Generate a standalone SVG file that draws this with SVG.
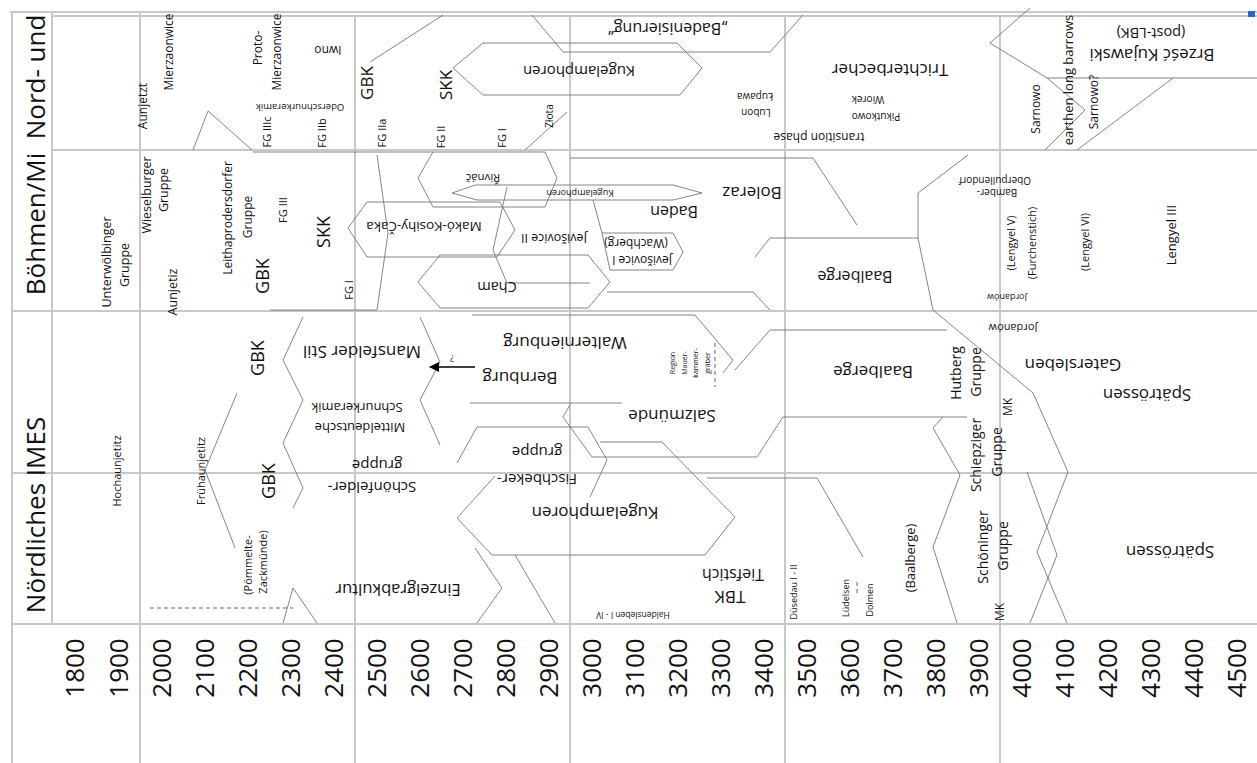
<svg xmlns="http://www.w3.org/2000/svg" width="1257" height="763" viewBox="0 0 1257 763">
<style>
.g{stroke:#c8c8c8;stroke-width:2;fill:none}
.s{stroke:#777;stroke-width:0.9;fill:none}
.d{stroke:#555;stroke-width:0.9;fill:none;stroke-dasharray:4 3}
text{font-family:'Open Sans','Noto Sans','Liberation Sans',sans-serif;fill:#111;text-anchor:middle;dominant-baseline:central}
.yr{font-size:26px}
.big{font-size:26px}
</style>
<defs>
<marker id="ah" viewBox="0 0 10 10" refX="9" refY="5" markerUnits="userSpaceOnUse" markerWidth="14" markerHeight="10" orient="auto"><path d="M0,0 L10,5 L0,10 z" fill="#000"/></marker>
</defs>
<rect width="1257" height="763" fill="#fff"/>
<g id="grid">
<line class="g" x1="10" y1="12" x2="1257" y2="12"/>
<line class="g" x1="52" y1="16" x2="1257" y2="16"/>
<line class="g" x1="52" y1="150" x2="1257" y2="150"/>
<line class="g" x1="12" y1="311" x2="1257" y2="311"/>
<line class="g" x1="12" y1="473" x2="1257" y2="473"/>
<line class="g" x1="12" y1="624" x2="1257" y2="624"/>
<line class="g" x1="12" y1="12" x2="12" y2="763"/>
<line class="g" x1="52" y1="12" x2="52" y2="624"/>
<line class="g" x1="140" y1="12" x2="140" y2="763"/>
<line class="g" x1="355" y1="16" x2="355" y2="763"/>
<line class="g" x1="570" y1="16" x2="570" y2="763"/>
<line class="g" x1="785" y1="16" x2="785" y2="763"/>
<line class="g" x1="1000" y1="16" x2="1000" y2="763"/>
<rect x="1248" y="11" width="7" height="6" fill="#2a66cc"/>
</g>
<g id="connectors">
<polyline class="s" points="193,150 208,111 252,150"/>
<polyline class="s" points="370,62 443,15"/>
<polyline class="s" points="532,15 563,52 770,52 803,15"/>
<polygon class="s" points="483,43 677,43 702,68 680,95 483,95 453,68"/>
<polyline class="s" points="525,150 567,112"/>
<polyline class="s" points="1030,8 990,43 1047,78 1085,110 1045,150"/>
<polyline class="s" points="1047,78 1257,78"/>
<polyline class="s" points="1173,78 1077,150"/>
<polyline class="s" points="253,152 433,152"/>
<polyline class="s" points="377,155 388,233 377,310"/>
<polyline class="s" points="270,310 377,310"/>
<polygon class="s" points="348,228 367,202 500,202 515,230 497,257 367,257"/>
<polygon class="s" points="418,178 433,152 545,152 557,178 545,207 433,207"/>
<polygon class="s" points="452,193 475,185 673,185 702,193 673,200 477,200"/>
<polyline class="s" points="507,187 493,250 507,283 590,283"/>
<polygon class="s" points="418,282 440,255 588,255 610,282 588,308 440,308"/>
<polyline class="s" points="593,200 602,233 610,270 673,270 683,252 673,233 602,233"/>
<polyline class="s" points="570,158 813,158 857,225"/>
<polyline class="s" points="607,292 753,292 770,310"/>
<polyline class="s" points="755,257 770,238 918,238"/>
<polyline class="s" points="968,155 918,193 918,238 933,310 1033,393 1068,472 1037,552 1067,623"/>
<polyline class="s" points="1027,472 1057,555 1030,623"/>
<polyline class="s" points="303,317 283,360 303,400 283,443 303,488 293,508"/>
<polyline class="s" points="420,317 440,362 420,400 440,445"/>
<line x1="475" y1="367" x2="430" y2="367" stroke="#000" stroke-width="1.6" marker-end="url(#ah)"/>
<polyline class="s" points="472,315 695,315 733,360 723,373"/>
<polyline class="s" points="470,403 622,403"/>
<polyline class="s" points="570,405 563,417 592,457 757,457 783,417 967,417"/>
<polyline class="s" points="735,370 770,330 947,330"/>
<line class="d" x1="715" y1="343" x2="715" y2="387"/>
<polyline class="s" points="457,463 477,427 588,427 607,460 590,497"/>
<polyline class="s" points="600,442 662,442 735,517 705,555 492,555 457,518 495,476"/>
<polyline class="s" points="707,478 817,478 863,557"/>
<polyline class="s" points="475,548 502,588 477,623"/>
<polyline class="s" points="515,555 555,623"/>
<polyline class="s" points="237,393 205,470 235,548"/>
<line class="d" x1="150" y1="608" x2="293" y2="608"/>
<polyline class="s" points="283,623 293,588 317,623"/>
<polyline class="s" points="943,417 933,428 960,475 933,547 957,623"/>
<line class="d" x1="857" y1="582" x2="857" y2="595"/>
</g>
<g id="region-labels">
<text class="big" transform="translate(35 77) rotate(-90)">Nord- und</text>
<text class="big" transform="translate(35 224) rotate(-90)">Böhmen/Mi</text>
<text class="big" transform="translate(35 515) rotate(-90)">Nördliches IMES</text>
</g>
<g id="years">
<text class="yr" transform="translate(74 668) rotate(-90)">1800</text>
<text class="yr" transform="translate(118 668) rotate(-90)">1900</text>
<text class="yr" transform="translate(161 668) rotate(-90)">2000</text>
<text class="yr" transform="translate(204 668) rotate(-90)">2100</text>
<text class="yr" transform="translate(247 668) rotate(-90)">2200</text>
<text class="yr" transform="translate(290 668) rotate(-90)">2300</text>
<text class="yr" transform="translate(333 668) rotate(-90)">2400</text>
<text class="yr" transform="translate(376 668) rotate(-90)">2500</text>
<text class="yr" transform="translate(419 668) rotate(-90)">2600</text>
<text class="yr" transform="translate(462 668) rotate(-90)">2700</text>
<text class="yr" transform="translate(505 668) rotate(-90)">2800</text>
<text class="yr" transform="translate(548 668) rotate(-90)">2900</text>
<text class="yr" transform="translate(591 668) rotate(-90)">3000</text>
<text class="yr" transform="translate(634 668) rotate(-90)">3100</text>
<text class="yr" transform="translate(677 668) rotate(-90)">3200</text>
<text class="yr" transform="translate(720 668) rotate(-90)">3300</text>
<text class="yr" transform="translate(763 668) rotate(-90)">3400</text>
<text class="yr" transform="translate(806 668) rotate(-90)">3500</text>
<text class="yr" transform="translate(849 668) rotate(-90)">3600</text>
<text class="yr" transform="translate(892 668) rotate(-90)">3700</text>
<text class="yr" transform="translate(935 668) rotate(-90)">3800</text>
<text class="yr" transform="translate(978 668) rotate(-90)">3900</text>
<text class="yr" transform="translate(1021 668) rotate(-90)">4000</text>
<text class="yr" transform="translate(1064 668) rotate(-90)">4100</text>
<text class="yr" transform="translate(1107 668) rotate(-90)">4200</text>
<text class="yr" transform="translate(1150 668) rotate(-90)">4300</text>
<text class="yr" transform="translate(1193 668) rotate(-90)">4400</text>
<text class="yr" transform="translate(1236 668) rotate(-90)">4500</text>
</g>
<g id="row1">
<g id="n-aunjetzt"><text font-size="12" transform="translate(142 106) rotate(-90)">Aunjetzt</text></g>
<g id="n-mierz"><text font-size="12" transform="translate(168 52) rotate(-90)">Mierzaonwice</text></g>
<g id="n-protomierz"><text font-size="12" transform="translate(257 48) rotate(-90)">Proto-</text><text font-size="12" transform="translate(276 52) rotate(-90)">Mierzaonwice</text></g>
<g id="n-iwno"><text font-size="12" transform="translate(328 50) rotate(180)">Iwno</text></g>
<g id="n-oder"><text font-size="9.5" transform="translate(300 107) rotate(180)">Oderschnurkeramik</text></g>
<g id="n-fg3c"><text font-size="11" transform="translate(266 132) rotate(-90)">FG IIIc</text></g>
<g id="n-fg2b"><text font-size="11" transform="translate(321 133) rotate(-90)">FG IIb</text></g>
<g id="n-fg2a"><text font-size="11" transform="translate(381 133) rotate(-90)">FG IIa</text></g>
<g id="n-gbk1"><text font-size="17" transform="translate(366 83) rotate(-90)">GBK</text></g>
<g id="n-skk1"><text font-size="17" transform="translate(445 85) rotate(-90)">SKK</text></g>
<g id="n-fg2"><text font-size="11" transform="translate(440 137) rotate(-90)">FG II</text></g>
<g id="n-fg1"><text font-size="11" transform="translate(501 138) rotate(-90)">FG I</text></g>
<g id="n-zlota"><text font-size="10" transform="translate(549 116) rotate(-90)">Złota</text></g>
<g id="n-badenis"><text font-size="16" transform="translate(668 29) rotate(180)">„Badenisierung“</text></g>
<g id="n-kah1"><text font-size="15" transform="translate(579 72) rotate(180)">Kugelamphoren</text></g>
<g id="n-lupawa"><text font-size="10" transform="translate(755 97) rotate(180)">Łupawa</text><text font-size="10" transform="translate(756 113) rotate(180)">Lubon</text></g>
<g id="n-transition"><text font-size="12" transform="translate(819 137) rotate(180)">transition phase</text></g>
<g id="n-wiorek"><text font-size="10" transform="translate(868 100) rotate(180)">Wiorek</text><text font-size="10" transform="translate(876 117) rotate(180)">Pikutkowo</text></g>
<g id="n-trb"><text font-size="17" transform="translate(890 70) rotate(180)">Trichterbecher</text></g>
<g id="n-sarnowo"><text font-size="12" transform="translate(1035 109) rotate(-90)">Sarnowo</text></g>
<g id="n-barrows"><text font-size="13" transform="translate(1068 80) rotate(-90)">earthen long barrows</text></g>
<g id="n-sarnowo2"><text font-size="12" transform="translate(1093 102) rotate(-90)">Sarnowo?</text></g>
<g id="n-brzesc"><text font-size="17" transform="translate(1152 55) rotate(180)">Brześć Kujawski</text><text font-size="14.5" transform="translate(1151 33) rotate(180)">(post-LBK)</text></g>
</g>
<g id="row2">
<g id="n-unterw"><text font-size="12.5" transform="translate(106 262) rotate(-90)">Unterwölbinger</text><text font-size="12.5" transform="translate(124 265) rotate(-90)">Gruppe</text></g>
<g id="n-wiesel"><text font-size="12.5" transform="translate(146 195) rotate(-90)">Wieselburger</text><text font-size="12.5" transform="translate(163 190) rotate(-90)">Gruppe</text></g>
<g id="n-aunjetiz"><text font-size="12.5" transform="translate(172 292) rotate(-90)">Aunjetiz</text></g>
<g id="n-leitha"><text font-size="12" transform="translate(227 218) rotate(-90)">Leithaprodersdorfer</text><text font-size="12" transform="translate(247 217) rotate(-90)">Gruppe</text></g>
<g id="n-fg3"><text font-size="11" transform="translate(282 210) rotate(-90)">FG III</text></g>
<g id="n-gbk2"><text font-size="18" transform="translate(262 276) rotate(-90)">GBK</text></g>
<g id="n-skk2"><text font-size="18" transform="translate(323 232) rotate(-90)">SKK</text></g>
<g id="n-fg1b"><text font-size="11" transform="translate(348 290) rotate(-90)">FG I</text></g>
<g id="n-mako"><text font-size="13.5" transform="translate(424 227) rotate(180)">Makó-Kosihy-Čaka</text></g>
<g id="n-rivnac"><text font-size="11.5" transform="translate(483 178) rotate(180)">Řivnáč</text></g>
<g id="n-kah2"><text font-size="9" transform="translate(580 193) rotate(180)">Kugelamphoren</text></g>
<g id="n-jev2"><text font-size="12.5" transform="translate(554 238) rotate(180)">Jevišovice II</text></g>
<g id="n-jev1"><text font-size="12" transform="translate(636 243) rotate(180)">(Wachberg)</text><text font-size="12" transform="translate(642 260) rotate(180)">Jevišovice I</text></g>
<g id="n-cham"><text font-size="14.5" transform="translate(497 287) rotate(180)">Cham</text></g>
<g id="n-baden"><text font-size="16" transform="translate(674 212) rotate(180)">Baden</text></g>
<g id="n-boleraz"><text font-size="17" transform="translate(752 193) rotate(180)">Boleraz</text></g>
<g id="n-baal1"><text font-size="16" transform="translate(855 277) rotate(180)">Baalberge</text></g>
<g id="n-bamber"><text font-size="10" transform="translate(995 181) rotate(180)">Oberpullendorf</text><text font-size="10" transform="translate(997 193) rotate(180)">Bamber-</text></g>
<g id="n-leng5"><text font-size="11" transform="translate(1010 243) rotate(-90)">(Lengyel V)</text><text font-size="11" transform="translate(1031 243) rotate(-90)">(Furchenstich)</text></g>
<g id="n-leng6"><text font-size="11" transform="translate(1084 242) rotate(-90)">(Lengyel VI)</text></g>
<g id="n-leng3"><text font-size="13" transform="translate(1171 235) rotate(-90)">Lengyel III</text></g>
<g id="n-jord1"><text font-size="9" transform="translate(1007 297) rotate(180)">Jordanów</text></g>
</g>
<g id="row3">
<g id="n-hochaun"><text font-size="11" transform="translate(116 471) rotate(-90)">Hochaunjetitz</text></g>
<g id="n-fruehaun"><text font-size="11" transform="translate(200 471) rotate(-90)">Frühaunjetitz</text></g>
<g id="n-gbk3"><text font-size="18" transform="translate(257 358) rotate(-90)">GBK</text></g>
<g id="n-gbk4"><text font-size="18" transform="translate(268 481) rotate(-90)">GBK</text></g>
<g id="n-mansf"><text font-size="17" transform="translate(362 352) rotate(180)">Mansfelder Stil</text></g>
<g id="n-mskk"><text font-size="13" transform="translate(357 408) rotate(180)">Schnurkeramik</text><text font-size="13" transform="translate(360 428) rotate(180)">Mitteldeutsche</text></g>
<g id="n-schoenf"><text font-size="15" transform="translate(377 466) rotate(180)">gruppe</text><text font-size="15" transform="translate(372 488) rotate(180)">Schönfelder-</text></g>
<g id="n-q"><text font-size="9" transform="translate(452 358) rotate(180)">?</text></g>
<g id="n-walt"><text font-size="17" transform="translate(565 343) rotate(180)">Walternienburg</text></g>
<g id="n-bern"><text font-size="17" transform="translate(520 378) rotate(180)">Bernburg</text></g>
<g id="n-salz"><text font-size="17" transform="translate(672 416) rotate(180)">Salzmünde</text></g>
<g id="n-mauer"><text font-size="7" transform="translate(672 363) rotate(-90)">Region</text><text font-size="7" transform="translate(684 363) rotate(-90)">Mauer-</text><text font-size="7" transform="translate(695 363) rotate(-90)">kammer-</text><text font-size="7" transform="translate(707 363) rotate(-90)">gräber</text></g>
<g id="n-fisch"><text font-size="15" transform="translate(537 453) rotate(180)">gruppe</text><text font-size="15" transform="translate(537 480) rotate(180)">Fischbeker-</text></g>
<g id="n-baal2"><text font-size="17" transform="translate(873 372) rotate(180)">Baalberge</text></g>
<g id="n-hutberg"><text font-size="14" transform="translate(955 373) rotate(-90)">Hutberg</text><text font-size="14" transform="translate(975 372) rotate(-90)">Gruppe</text></g>
<g id="n-jord2"><text font-size="11" transform="translate(1013 328) rotate(180)">Jordanów</text></g>
<g id="n-gatersl"><text font-size="17" transform="translate(1073 365) rotate(180)">Gatersleben</text></g>
<g id="n-spaet1"><text font-size="17" transform="translate(1147 395) rotate(180)">Spätrössen</text></g>
<g id="n-mk1"><text font-size="12" transform="translate(1007 407) rotate(-90)">MK</text></g>
<g id="n-schiep"><text font-size="14" transform="translate(975 455) rotate(-90)">Schiepziger</text><text font-size="14" transform="translate(996 452) rotate(-90)">Gruppe</text></g>
</g>
<g id="row4">
<g id="n-kah3"><text font-size="17" transform="translate(595 513) rotate(180)">Kugelamphoren</text></g>
<g id="n-ezg"><text font-size="16.5" transform="translate(398 590) rotate(180)">Einzelgrabkultur</text></g>
<g id="n-poemm"><text font-size="11" transform="translate(247 565) rotate(-90)">(Pömmelte-</text><text font-size="11" transform="translate(262 562) rotate(-90)">Zackmünde)</text></g>
<g id="n-hald"><text font-size="8.5" transform="translate(633 615) rotate(180)">Haldensleben I - IV</text></g>
<g id="n-tbk"><text font-size="16" transform="translate(733 575) rotate(180)">Tiefstich</text><text font-size="17" transform="translate(730 597) rotate(180)">TBK</text></g>
<g id="n-duesedau"><text font-size="9" transform="translate(793 592) rotate(-90)">Düsedau I - II</text></g>
<g id="n-luedelsen"><text font-size="9" transform="translate(845 598) rotate(-90)">Lüdelsen</text><text font-size="9" transform="translate(869 600) rotate(-90)">Dolmen</text></g>
<g id="n-baal3"><text font-size="13" transform="translate(910 558) rotate(-90)">(Baalberge)</text></g>
<g id="n-schoen"><text font-size="14" transform="translate(982 547) rotate(-90)">Schöninger</text><text font-size="14" transform="translate(1002 546) rotate(-90)">Gruppe</text></g>
<g id="n-mk2"><text font-size="12" transform="translate(999 612) rotate(-90)">MK</text></g>
<g id="n-spaet2"><text font-size="17" transform="translate(1170 552) rotate(180)">Spätrössen</text></g>
</g>
</svg>
